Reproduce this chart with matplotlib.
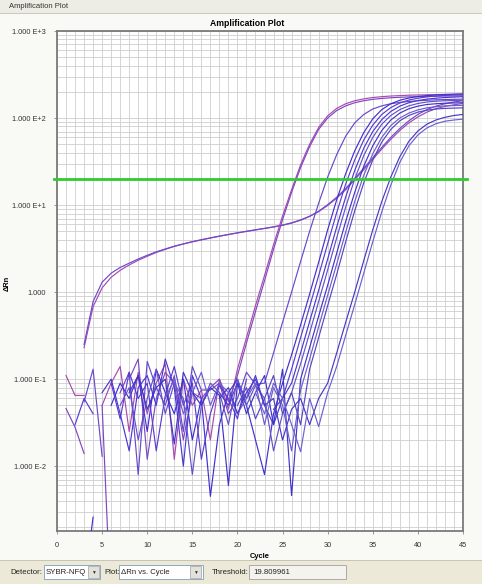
import numpy as np
import matplotlib
matplotlib.use("Agg")
import matplotlib.pyplot as plt
from matplotlib.patches import Rectangle
from matplotlib.ticker import MultipleLocator, LogLocator, NullFormatter, FixedLocator, FixedFormatter

plt.rcParams['font.family'] = ['Liberation Sans', 'DejaVu Sans']

N = np.nan
cycles = np.arange(1, 46)

# delta Rn per well, cycles 1..45 (nan = negative / not drawn)
pd1 = [N, N, 0.23, 0.68, 1.12, 1.48, 1.78, 2.05, 2.32, 2.58,
       2.85, 3.1, 3.35, 3.57, 3.78, 3.98, 4.18, 4.38, 4.58, 4.78,
       4.98, 5.18, 5.38, 5.6, 5.85, 6.2, 6.7, 7.4, 8.4, 9.9,
       12.0, 15.0, 19.5, 25.5, 33.5, 44, 57, 72, 88, 103,
       117, 128, 136, 142, 147]
pd2 = [N, N, 0.25, 0.78, 1.3, 1.65, 1.92, 2.15, 2.4, 2.65,
       2.9, 3.13, 3.37, 3.58, 3.8, 4.0, 4.2, 4.4, 4.6, 4.8,
       5.0, 5.2, 5.4, 5.62, 5.9, 6.25, 6.75, 7.45, 8.5, 10.1,
       12.3, 15.5, 20.2, 26.5, 35, 46, 60, 76, 93, 110,
       125, 137, 146, 153, 158]
early1 = [0.11, 0.065, 0.065, N, 0.05, 0.09, 0.14, 0.025, 0.12, 0.04,
          0.09, 0.15, 0.012, 0.1, 0.05, 0.075, 0.02, 0.1, 0.045, 0.13,
          0.3, 0.7, 1.55, 3.5, 7.5, 15, 29, 50, 78, 106,
          129, 146, 158, 166, 172, 176, 179, 181, 183, 184,
          185, 186, 187, 187, 188]
early2 = [0.046, 0.028, 0.014, N, 0.05, 0.0002, N, 0.1, 0.17, 0.012,
          0.06, 0.12, 0.09, 0.02, 0.07, 0.06, 0.08, 0.1, 0.055, 0.11,
          0.26, 0.6, 1.35, 3.1, 6.8, 14, 27, 47, 74, 100,
          122, 138, 150, 158, 164, 168, 171, 173, 175, 176,
          177, 178, 179, 179, 180]
mid1 = [N, N, 0.055, 0.13, 0.013, N, 0.07, 0.12, 0.008, 0.16,
        0.08, 0.05, 0.11, 0.025, 0.14, 0.075, 0.075, 0.09, 0.04, 0.06,
        0.12, 0.087, 0.09, 0.2, 0.45, 1.0, 2.25, 5.0, 10.5, 21,
        38, 62, 88, 110, 127, 138, 146, 151, 155, 158,
        160, 162, 163, 164, 165]
b1 = [N, N, 0.0004, 0.0026, N, 0.05, 0.09, 0.06, 0.11, 0.025,
      0.13, 0.07, 0.04, 0.1, 0.02, 0.06, 0.0045, 0.03, 0.07, 0.1,
      0.05, 0.02, 0.008, 0.04, 0.09, 0.19, 0.42, 0.95, 2.2, 5.2,
      11.5, 23, 42, 68, 98, 125, 146, 160, 170, 177,
      181, 184, 186, 188, 189]
b2 = [N, 0.03, 0.06, 0.04, N, 0.09, 0.035, 0.12, 0.06, 0.09,
      0.015, 0.065, 0.14, 0.05, 0.09, 0.012, 0.04, 0.085, 0.06, 0.035,
      0.1, N, N, 0.045, 0.06, 0.13, 0.3, 0.68, 1.55, 3.6,
      8.2, 17.5, 33, 56, 83, 110, 132, 149, 161, 169,
      175, 179, 182, 184, 185]
b3 = [N, N, N, N, 0.07, 0.1, 0.04, 0.015, 0.08, 0.11,
      0.05, 0.17, 0.08, 0.01, 0.11, 0.06, N, 0.07, 0.05, 0.09,
      0.06, 0.11, 0.05, 0.03, 0.06, 0.09, 0.2, 0.46, 1.05, 2.4,
      5.6, 12.4, 25, 45, 70, 96, 119, 137, 150, 159,
      165, 169, 172, 174, 176]
b4 = [N, N, N, N, N, N, 0.05, 0.08, 0.02, 0.06,
      0.13, 0.04, 0.09, 0.06, 0.008, 0.05, 0.09, 0.07, 0.03, 0.1,
      0.05, 0.085, 0.06, 0.015, 0.04, 0.07, 0.15, 0.34, 0.78, 1.8,
      4.2, 9.5, 20, 37, 60, 85, 107, 125, 138, 147,
      153, 156, 158, 159, 160]
b5 = [N, N, N, N, N, N, N, 0.07, 0.11, 0.045,
      0.08, 0.1, 0.018, 0.12, 0.07, 0.05, 0.08, 0.065, 0.006, 0.09,
      0.04, 0.07, 0.11, 0.03, 0.13, 0.0046, 0.1, 0.23, 0.53, 1.2,
      2.8, 6.5, 14, 28, 48, 72, 95, 114, 128, 137,
      143, 146, 148, 149, 150]
b6 = [N, N, N, N, N, N, N, N, N, N,
      N, 0.06, 0.1, 0.04, 0.07, 0.12, 0.05, 0.09, 0.07, 0.04,
      0.06, 0.09, 0.03, 0.08, 0.05, 0.015, 0.075, 0.17, 0.4, 0.92,
      2.1, 4.9, 11, 22, 39, 60, 82, 100, 114, 124,
      131, 135, 138, 139, 140]
b7 = [N, N, N, N, N, N, N, N, N, N,
      N, N, N, N, N, N, N, N, N, 0.05,
      0.08, 0.035, 0.06, 0.11, 0.04, 0.07, 0.03, 0.13, 0.3, 0.7,
      1.6, 3.8, 8.6, 18, 33, 53, 74, 93, 107, 117,
      123, 127, 129, 130, 131]
late1 = [N, N, N, N, N, N, N, N, N, N,
         N, N, N, N, N, N, N, 0.06, 0.08, 0.04,
         0.07, 0.1, 0.05, 0.06, 0.02, 0.045, 0.06, 0.03, 0.06, 0.09,
         0.2, 0.45, 1.0, 2.3, 5.2, 11, 21, 36, 54, 71,
         85, 95, 102, 107, 110]
late2 = [N, N, N, N, N, N, N, N, N, N,
         N, N, N, N, N, N, N, N, N, N,
         N, 0.07, 0.04, 0.09, 0.06, 0.03, 0.0147, 0.06, 0.0285, 0.07,
         0.14, 0.32, 0.72, 1.65, 3.8, 8.4, 17, 31, 48, 64,
         77, 86, 92, 95, 97]

wells = [pd1, pd2, early1, early2, mid1, b1, b2, b3, b4, b5, b6, b7, late1, late2]
well_colors = ["#9E4CB6", "#7049C8", "#A84AB0", "#8047C0", "#6A48CC",
               "#4030D0", "#5A3CCF", "#4A38D4", "#6650C8", "#3F34C8",
               "#6F5AD0", "#5546C6", "#4838C8", "#6A60D0"]

threshold = 19.809961
ytick_values = [0.01, 0.1, 1, 10, 100, 1000]
ytick_labels = ["1.000 E-2", "1.000 E-1", "1.000", "1.000 E+1", "1.000 E+2", "1.000 E+3"]

W, H = 482, 584
fig = plt.figure(figsize=(W / 100, H / 100), dpi=100, facecolor="#F9F9F5")
ax = fig.add_axes([57 / W, 1 - 531 / H, 406 / W, 500 / H])
ax.set_facecolor("white")

for vals, col in zip(wells, well_colors):
    ax.plot(cycles, vals, color=col, lw=0.85, zorder=3)

ax.plot([-0.35, 45.45], [threshold, threshold], color="#2FCB2F", lw=2.0,
        zorder=4, clip_on=False)

ax.set_yscale("log")
ax.set_xlim(0, 45)
ax.set_ylim(0.0018, 1000)
ax.xaxis.set_major_locator(MultipleLocator(5))
ax.xaxis.set_minor_locator(MultipleLocator(1))
ax.yaxis.set_major_locator(FixedLocator(ytick_values))
ax.yaxis.set_major_formatter(FixedFormatter(ytick_labels))
ax.yaxis.set_minor_locator(LogLocator(base=10, subs=np.arange(2, 10)))
ax.yaxis.set_minor_formatter(NullFormatter())
ax.grid(which="both", color="#CFCFCF", lw=0.6, zorder=0)
ax.set_axisbelow(True)
ax.tick_params(which="major", length=2, width=0.6, color="#888888",
               labelsize=5.3, labelcolor="#333333", pad=6)
ax.tick_params(which="minor", length=0)
for sp in ax.spines.values():
    sp.set_color("#7A7A7A")
    sp.set_linewidth(1.3)

ax.set_xlabel("Cycle", fontsize=5.4, fontweight="bold", labelpad=3)
ax.set_ylabel("ΔRn", fontsize=5.4, fontweight="bold")
ax.yaxis.set_label_coords((11 - 57) / 406, 0.495)
fig.text(247 / W, 1 - 24 / H, "Amplification Plot", fontsize=6.2,
         fontweight="bold", ha="center", va="center")


def box(x, y, w, h, **kw):
    fig.add_artist(Rectangle((x / W, 1 - (y + h) / H), w / W, h / H,
                             transform=fig.transFigure, **kw))


def label(x, y, s, **kw):
    fig.text(x / W, 1 - y / H, s, va="center", **kw)


# window chrome
box(0, 0, W, 13, fc="#EDEDE6", ec="none")
box(0, 13, W, 0.8, fc="#C9C9C0", ec="none")
label(9, 7, "Amplification Plot", fontsize=5.5, color="#333333")
box(0, 560, W, 24, fc="#ECE9D8", ec="none")
box(0, 560, W, 0.8, fc="#C8C5B5", ec="none")

label(10, 572, "Detector:", fontsize=5.6, color="#222222")
box(44, 565, 56, 14, fc="white", ec="#7F9DB9", lw=0.6)
label(46, 572, "SYBR-NFQ", fontsize=5.6, color="#222222")
box(88, 566, 11, 12, fc="#E3E2DA", ec="#A0A0A0", lw=0.5)
label(93.5, 572, "▼", fontsize=3.5, ha="center", color="#333333")

label(104, 572, "Plot:", fontsize=5.6, color="#222222")
box(119, 565, 84, 14, fc="white", ec="#7F9DB9", lw=0.6)
label(121, 572, "ΔRn vs. Cycle", fontsize=5.6, color="#222222")
box(190, 566, 11, 12, fc="#E3E2DA", ec="#A0A0A0", lw=0.5)
label(195.5, 572, "▼", fontsize=3.5, ha="center", color="#333333")

label(212, 572, "Threshold:", fontsize=5.6, color="#222222")
box(249, 565, 97, 14, fc="#F4F3EE", ec="#A0A0A0", lw=0.6)
label(253, 572, "19.809961", fontsize=5.6, color="#222222")

fig.savefig("out.png", dpi=100, facecolor=fig.get_facecolor())
